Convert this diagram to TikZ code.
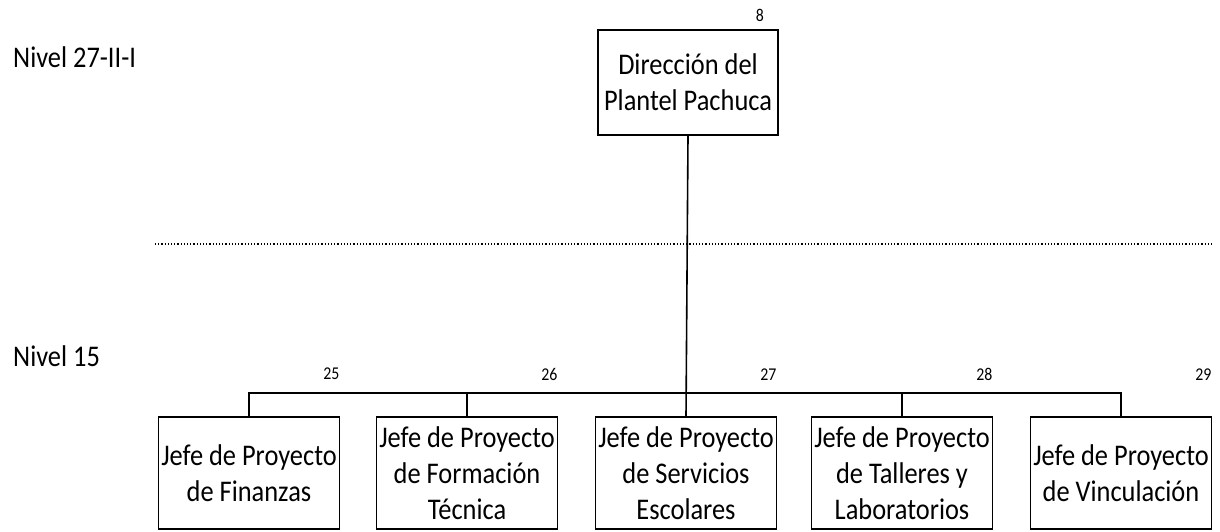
\documentclass[tikz,border=0pt]{standalone}
\usepackage{fontspec}
\setmainfont{Carlito}[FakeStretch=0.88]
\usetikzlibrary{positioning}

\begin{document}
\begin{tikzpicture}[x = 1pt, y = 1pt, boxstyle/.style={draw,line width=1.6pt,rectangle,minimum width=181pt,minimum height=112pt,inner sep=0pt,align=center,font=\fontsize{30}{36}\selectfont},
    numstyle/.style={font=\fontsize{18}{20}\selectfont,inner sep=0pt}, linkstyle/.style={line width=1.6pt}]
    \useasboundingbox (0,0) rectangle (1220,-531);
    % niveles
    \node[anchor=base west,inner sep=0pt,font=\fontsize{30}{32}\selectfont] (nivA) at (13,-67) {Nivel 27-II-I};
    \node[anchor=base west,inner sep=0pt,font=\fontsize{30}{32}\selectfont] (nivB) at (13,-366) {Nivel 15};
    \draw[dotted,line width=1.2pt] (155,-244) coordinate (dotA) -- (1212,-244) coordinate (dotB);
    % direccion
    \node[boxstyle,minimum width=180pt,minimum height=105pt] (dir) at (688,-82.5) {Dirección del\\Plantel Pachuca};
    \node[numstyle] (num8) at (760,-15) {8};
    % jefes
    \node[boxstyle] (fin) at (249,-473) {Jefe de Proyecto\\de Finanzas};
    \node[boxstyle] (for) at (467,-473) {Jefe de Proyecto\\de Formación\\Técnica};
    \node[boxstyle] (ser) at (686,-473) {Jefe de Proyecto\\de Servicios\\Escolares};
    \node[boxstyle] (tal) at (902,-473) {Jefe de Proyecto\\de Talleres y\\Laboratorios};
    \node[boxstyle] (vin) at (1121,-473) {Jefe de Proyecto\\de Vinculación};
    \foreach \b/\n in {fin/25, for/26, ser/27, tal/28, vin/29}
        \node[numstyle] (num\n) at ([shift={(-9,42)}]\b.north east) {\n};
    % lineas
    \draw[linkstyle] (dir.south) -- (ser.north);
    \draw[linkstyle] (fin.north) -- ++(0,23) coordinate (bus) -| (vin.north);
    \draw[linkstyle] (for.north) -- (for.north |- bus);
    \draw[linkstyle] (tal.north) -- (tal.north |- bus);
\end{tikzpicture}
\end{document}
